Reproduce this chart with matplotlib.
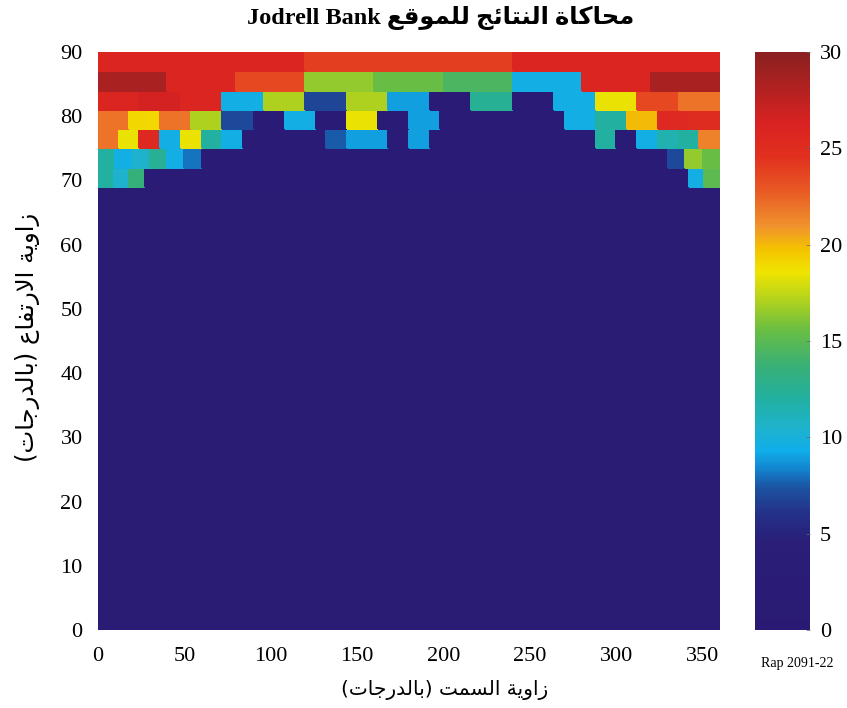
import numpy as np
import matplotlib
matplotlib.use("Agg")
import matplotlib.pyplot as plt
from matplotlib.colors import LinearSegmentedColormap, Normalize

# ---------------- data ----------------
# elevation bands (lower edge, deg) and azimuth cell width (deg) of the upper sky cells
band_low_edges = [69, 72, 75, 78, 81, 84, 87]
band_widths = [9, 10, 12, 18, 24, 40, 120]

vals_69 = [12, 10.5, 13.5, 2, 2, 2, 2, 2, 2, 2, 2, 2, 2, 2, 2, 2, 2, 2, 2, 2,
           2, 2, 2, 2, 2, 2, 2, 2, 2, 2, 2, 2, 2, 2, 2, 2, 2, 2, 9.5, 15]
vals_72 = [12, 9.5, 10.5, 12.5, 9.5, 8, 2, 2, 2, 2, 2, 2, 2, 2, 2, 2, 2, 2,
           2, 2, 2, 2, 2, 2, 2, 2, 2, 2, 2, 2, 2, 2, 2, 7, 16.5, 15.5]
vals_75 = [22, 18.5, 25.5, 9.5, 18.5, 12, 9.5, 2, 2, 2, 2, 7.5, 9, 9, 2,
           9, 2, 2, 2, 2, 2, 2, 2, 2, 12, 2, 9.5, 11.5, 12, 21.5]
vals_78 = [22, 19, 22, 17, 7, 2, 9.5, 2, 18.5, 2,
           9, 2, 2, 2, 2, 9.5, 12, 20, 25.5, 25]
vals_81 = [26, 26.5, 26, 9.5, 17, 6.8, 17, 9, 2, 12.5, 2, 9.5, 18.5, 23.5, 22]
vals_84 = [28.5, 26, 23.5, 16.5, 15.5, 14.5, 9.5, 26, 28.5]
vals_87 = [26, 24, 26]
band_values = [vals_69, vals_72, vals_75, vals_78, vals_81, vals_84, vals_87]

# lower sky (0-69 deg, 3 deg bands): uniformly low
low_band_step = 3
low_values = [1.5, 1.5, 1.5, 1.5, 1.5, 1.5, 1.5, 1.5, 1.5, 1.5, 1.5, 1.5,
              1.5, 1.5, 1.5, 1.5, 1.5, 1.5, 1.5, 1.5, 1.5, 1.5, 1.5]

xticks = [0, 50, 100, 150, 200, 250, 300, 350]
yticks = [0, 10, 20, 30, 40, 50, 60, 70, 80, 90]
cticks = [0, 5, 10, 15, 20, 25, 30]

# ---------------- Arabic shaping (presentation forms, visual order) ----------------
FORMS = {
    '\u0627': ('\uFE8D', '\uFE8E', None, None),
    '\u0628': ('\uFE8F', '\uFE90', '\uFE91', '\uFE92'),
    '\u0629': ('\uFE93', '\uFE94', None, None),
    '\u062A': ('\uFE95', '\uFE96', '\uFE97', '\uFE98'),
    '\u062C': ('\uFE9D', '\uFE9E', '\uFE9F', '\uFEA0'),
    '\u062D': ('\uFEA1', '\uFEA2', '\uFEA3', '\uFEA4'),
    '\u062F': ('\uFEA9', '\uFEAA', None, None),
    '\u0631': ('\uFEAD', '\uFEAE', None, None),
    '\u0632': ('\uFEAF', '\uFEB0', None, None),
    '\u0633': ('\uFEB1', '\uFEB2', '\uFEB3', '\uFEB4'),
    '\u0639': ('\uFEC9', '\uFECA', '\uFECB', '\uFECC'),
    '\u0641': ('\uFED1', '\uFED2', '\uFED3', '\uFED4'),
    '\u0642': ('\uFED5', '\uFED6', '\uFED7', '\uFED8'),
    '\u0643': ('\uFED9', '\uFEDA', '\uFEDB', '\uFEDC'),
    '\u0644': ('\uFEDD', '\uFEDE', '\uFEDF', '\uFEE0'),
    '\u0645': ('\uFEE1', '\uFEE2', '\uFEE3', '\uFEE4'),
    '\u0646': ('\uFEE5', '\uFEE6', '\uFEE7', '\uFEE8'),
    '\u0648': ('\uFEED', '\uFEEE', None, None),
    '\u064A': ('\uFEF1', '\uFEF2', '\uFEF3', '\uFEF4'),
    '\u0626': ('\uFE89', '\uFE8A', '\uFE8B', '\uFE8C'),
    'LA': ('\uFEFB', '\uFEFC', None, None),
}


def rtl(text):
    toks = []
    i = 0
    while i < len(text):
        if text[i] == '\u0644' and i + 1 < len(text) and text[i + 1] == '\u0627':
            toks.append('LA')
            i += 2
        else:
            toks.append(text[i])
            i += 1

    def dual(t):
        return t in FORMS and FORMS[t][2] is not None

    out = []
    for j, t in enumerate(toks):
        if t not in FORMS:
            out.append(t)
            continue
        prev = toks[j - 1] if j > 0 else None
        nxt = toks[j + 1] if j + 1 < len(toks) else None
        jp = prev is not None and dual(prev)
        jn = dual(t) and nxt is not None and nxt in FORMS
        f = FORMS[t]
        if jp and jn:
            g = f[3]
        elif jp:
            g = f[1]
        elif jn:
            g = f[2]
        else:
            g = f[0]
        out.append(g)
    vis = ''.join(reversed(out))
    return vis.translate(str.maketrans({'(': ')', ')': '('}))


title_ar = "محاكاة النتائج للموقع"
title_en = "Jodrell Bank"
xlabel_ar = "زاوية السمت (بالدرجات)"
ylabel_ar = "زاوية الارتفاع (بالدرجات)"
ref_note = "Rap 2091-22"

# ---------------- colormap ----------------
cmap = LinearSegmentedColormap.from_list("itu", [
    (0.00, "#2A1A74"),
    (0.15, "#2A1E78"),
    (0.20, "#243088"),
    (0.245, "#1C52A0"),
    (0.28, "#1388D2"),
    (0.31, "#10AEEA"),
    (0.35, "#1EB2CC"),
    (0.40, "#22B0A0"),
    (0.46, "#3AB074"),
    (0.52, "#6ABE42"),
    (0.57, "#B0D21E"),
    (0.62, "#F0E400"),
    (0.66, "#F4C200"),
    (0.70, "#F0922E"),
    (0.76, "#E85A24"),
    (0.82, "#E2301F"),
    (0.88, "#D82222"),
    (1.00, "#8A2020"),
])
norm = Normalize(vmin=0, vmax=30)

# ---------------- figure ----------------
fig = plt.figure(figsize=(8.47, 7.08), dpi=100)
ax = fig.add_axes([98 / 847, 1 - 630 / 708, (720 - 98) / 847, (630 - 52) / 708])
cax = fig.add_axes([755 / 847, 1 - 630 / 708, (810 - 755) / 847, (630 - 52) / 708])

# lower sky
low_edges = np.arange(0, low_band_step * len(low_values) + 1, low_band_step)
mesh = ax.pcolormesh([0, 360], low_edges, np.array(low_values)[:, None],
                     cmap=cmap, norm=norm, edgecolors='none')
# upper sky bands
for lo, w, v in zip(band_low_edges, band_widths, band_values):
    xe = np.arange(0, 360 + w, w)[:len(v) + 1]
    ax.pcolormesh(xe, [lo, lo + 3], np.array(v)[None, :],
                  cmap=cmap, norm=norm, edgecolors='face', linewidth=0.3)

ax.set_xlim(0, 360)
ax.set_ylim(0, 90)
ax.set_xticks(xticks)
ax.set_yticks(yticks)
serif = 'Liberation Serif'
ax.tick_params(axis='x', direction='in', length=0, labelsize=16, pad=12)
ax.tick_params(axis='y', direction='in', length=0, labelsize=16, pad=11)
for lab in ax.get_xticklabels() + ax.get_yticklabels():
    lab.set_fontfamily(serif)
for s in ax.spines.values():
    s.set_visible(False)

cb = fig.colorbar(mesh, cax=cax, ticks=cticks)
cb.outline.set_visible(False)
cb.ax.tick_params(direction='in', length=3, width=0.5, color='#666666', labelsize=16, pad=7)
for lab in cb.ax.get_yticklabels():
    lab.set_fontfamily(serif)

fig.text(441 / 847, 1 - 18 / 708, title_en + " " + rtl(title_ar),
         ha='center', va='center', fontsize=17.5, fontweight='bold',
         family=[serif, 'DejaVu Sans'])
fig.text(445 / 847, 1 - 690 / 708, rtl(xlabel_ar), ha='center', va='center',
         fontsize=14.5, family=['DejaVu Sans'])
fig.text(27 / 847, 1 - 337 / 708, rtl(ylabel_ar), ha='center', va='center',
         rotation=90, fontsize=17.5, family=['DejaVu Sans'])
fig.text(797 / 847, 1 - 663 / 708, ref_note, ha='center', va='center',
         fontsize=10, family=[serif])

fig.savefig("out.png", dpi=100)
